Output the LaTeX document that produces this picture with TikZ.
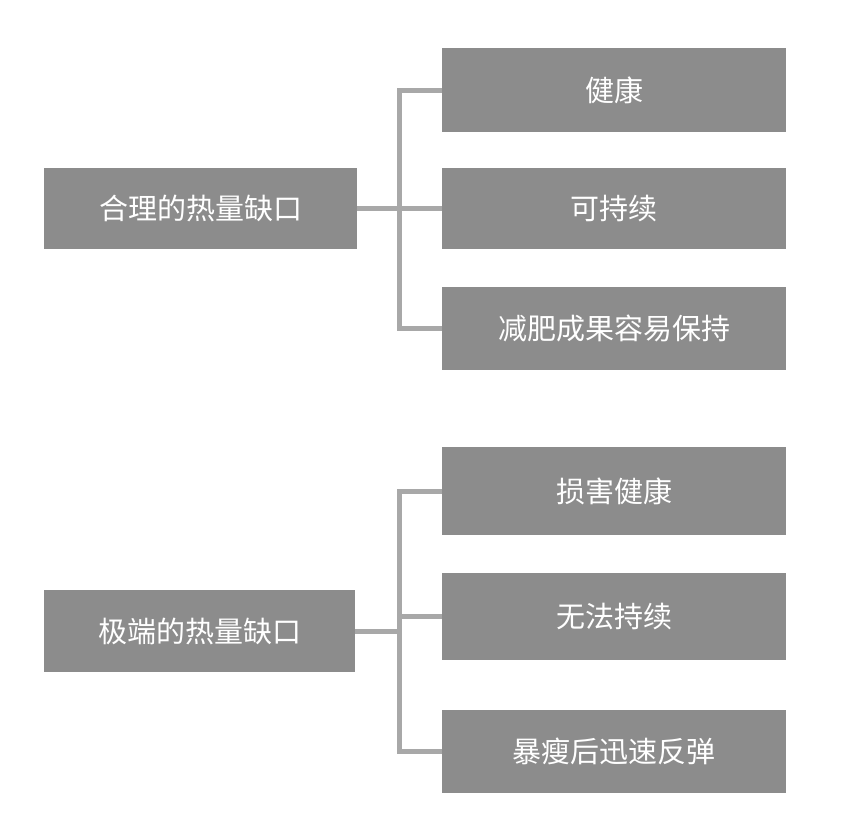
\documentclass[tikz,border=0pt]{standalone}
\usepackage{fontspec}
\newfontfamily\cjk{Noto Sans CJK SC}
\begin{document}
\begin{tikzpicture}[x=1pt,y=-1pt,
  box/.style={fill=boxgray,draw=none,text=white,inner sep=0pt,font=\cjk\fontsize{29}{34}\selectfont},
  link/.style={draw=linegray,line width=5pt}]
\definecolor{boxgray}{HTML}{8C8C8C}
\definecolor{linegray}{HTML}{A8A8A8}
\useasboundingbox[fill=white] (0,0) rectangle (860,833);
% top group
\node[box,minimum width=313pt,minimum height=81pt] (l1) at (200.5,208.5) {合理的热量缺口};
\node[box,minimum width=344pt,minimum height=84pt] (a1) at (614,90) {健康};
\node[box,minimum width=344pt,minimum height=81pt] (a2) at (614,208.5) {可持续};
\node[box,minimum width=344pt,minimum height=83pt] (a3) at (614,328.5) {减肥成果容易保持};
\coordinate (j1) at (399,208.5);
\draw[link] (l1.east) -- (j1);
\draw[link] (a1.west) -- (399,90) -- (399,328.5) -- (a3.west);
\draw[link] (j1) -- (a2.west);
% bottom group
\node[box,minimum width=311pt,minimum height=82pt] (l2) at (199.5,631) {极端的热量缺口};
\node[box,minimum width=344pt,minimum height=88pt] (b1) at (614,491) {损害健康};
\node[box,minimum width=344pt,minimum height=87pt] (b2) at (614,616.5) {无法持续};
\node[box,minimum width=344pt,minimum height=83pt] (b3) at (614,751.5) {暴瘦后迅速反弹};
\coordinate (j2) at (399,631);
\draw[link] (l2.east) -- (j2);
\draw[link] (b1.west) -- (399,491) -- (399,751.5) -- (b3.west);
\draw[link] (399,616.5) -- (b2.west);
\end{tikzpicture}
\end{document}
